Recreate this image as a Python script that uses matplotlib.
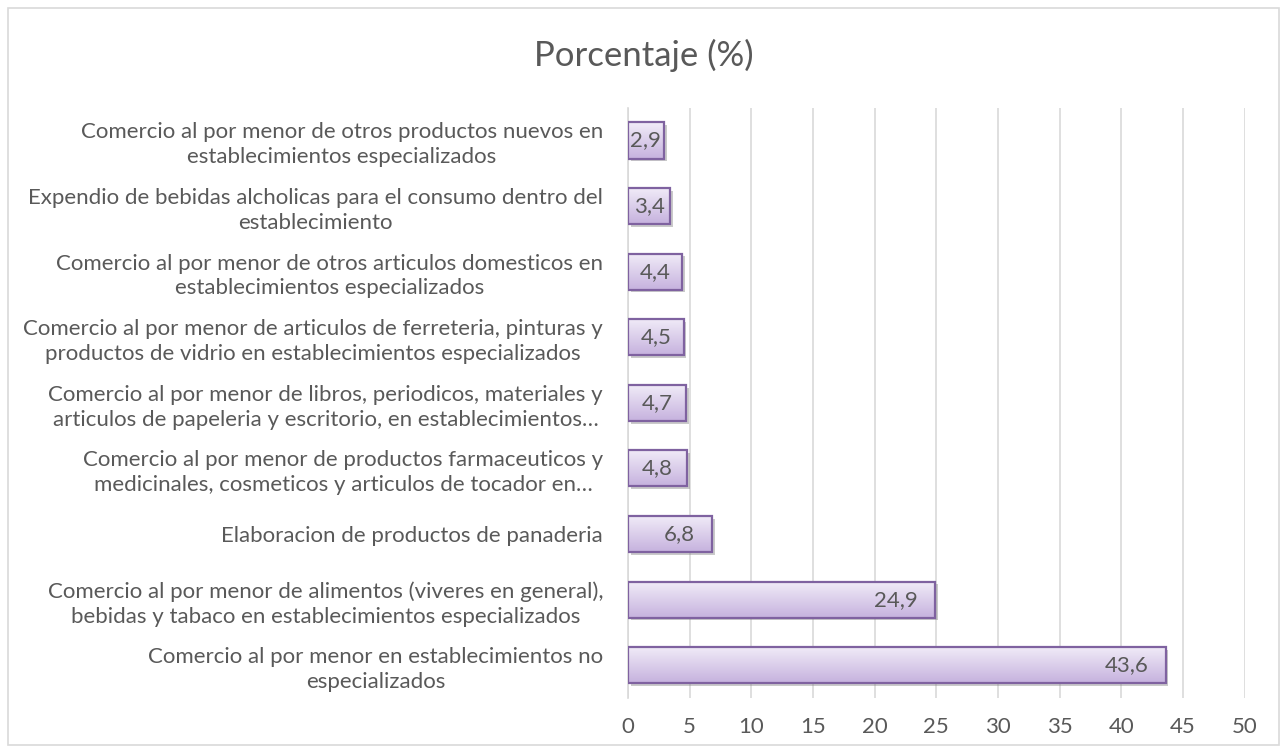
import numpy as np
import matplotlib.pyplot as plt
import matplotlib.patheffects as pe
from matplotlib.colors import LinearSegmentedColormap
from matplotlib.patches import Rectangle

# categories from bottom to top
categorias = [
    "Comercio al por menor en establecimientos no\nespecializados",
    "Comercio al por menor de alimentos (viveres en general),\nbebidas y tabaco en establecimientos especializados",
    "Elaboracion de productos de panaderia",
    "Comercio al por menor de productos farmaceuticos y\nmedicinales, cosmeticos y articulos de tocador en…",
    "Comercio al por menor de libros, periodicos, materiales y\narticulos de papeleria y escritorio, en establecimientos…",
    "Comercio al por menor de articulos de ferreteria, pinturas y\nproductos de vidrio en establecimientos especializados",
    "Comercio al por menor de otros articulos domesticos en\nestablecimientos especializados",
    "Expendio de bebidas alcholicas para el consumo dentro del\nestablecimiento",
    "Comercio al por menor de otros productos nuevos en\nestablecimientos especializados",
]
porcentajes = [43.6, 24.9, 6.8, 4.8, 4.7, 4.5, 4.4, 3.4, 2.9]
xticks = [0, 5, 10, 15, 20, 25, 30, 35, 40, 45, 50]

plt.rcParams['font.family'] = ['Lato', 'DejaVu Sans']
gris = '#595959'
fs = 16

fig = plt.figure(figsize=(12.87, 7.53), dpi=100)
ax = fig.add_axes([0.488, 0.073, 0.479, 0.784])

# chart border
fig.patches.append(Rectangle((0.006, 0.01), 0.988, 0.98, transform=fig.transFigure,
                             fill=False, edgecolor='#d9d9d9', linewidth=1.2))

y = np.arange(len(categorias))
alto = 0.55
# base bars carry the shadow
bars = ax.barh(y, porcentajes, height=alto, color='#c6b2de', linewidth=0, zorder=2,
               path_effects=[pe.SimplePatchShadow(offset=(2, -2), shadow_rgbFace='#8a8a8a', alpha=0.45),
                             pe.Normal()])

cmap = LinearSegmentedColormap.from_list('lila', ['#f1ecf8', '#c6b2de'])
grad = np.linspace(0, 1, 64).reshape(-1, 1)
for b in bars:
    x0, y0 = b.get_x(), b.get_y()
    w, h = b.get_width(), b.get_height()
    im = ax.imshow(grad, cmap=cmap, aspect='auto', extent=(x0, x0 + w, y0, y0 + h),
                   origin='upper', zorder=3)
    im.set_clip_path(b)

# outlines
ax.barh(y, porcentajes, height=alto, color='none', edgecolor='#7f62a0', linewidth=1.6, zorder=4)

ax.set_xlim(0, 50)
ax.set_ylim(-0.5, len(categorias) - 0.5)
ax.set_xticks(xticks)
ax.set_xticklabels([str(t) for t in xticks])
ax.set_yticks(y)
ax.set_yticklabels(categorias, fontsize=fs, color=gris, multialignment='center', linespacing=1.3)
ax.tick_params(axis='x', length=0, labelsize=fs, labelcolor=gris, pad=14)
ax.tick_params(axis='y', length=0, pad=18)
ax.grid(axis='x', color='#d9d9d9', linewidth=1.2, zorder=0)
ax.set_axisbelow(True)
for s in ['top', 'right', 'bottom']:
    ax.spines[s].set_visible(False)
ax.spines['left'].set_color('#d9d9d9')
ax.spines['left'].set_linewidth(1.2)

# data labels: inside end, centred when the bar is too short
renderer = fig.canvas.get_renderer()
px_per_unit = ax.transData.transform((1, 0))[0] - ax.transData.transform((0, 0))[0]
pad_units = 17 / px_per_unit
for yi, v in zip(y, porcentajes):
    t = ax.text(v - pad_units, yi, f"{v:.1f}".replace('.', ','), ha='right', va='center',
                fontsize=fs, color=gris, zorder=5)
    tw = t.get_window_extent(renderer).width / px_per_unit
    if v - pad_units < v / 2 + tw / 2:
        t.set_x(v / 2)
        t.set_ha('center')

fig.text(0.5, 0.927, 'Porcentaje (%)', ha='center', va='center', fontsize=25, color=gris)

fig.savefig('out.png', dpi=100)
